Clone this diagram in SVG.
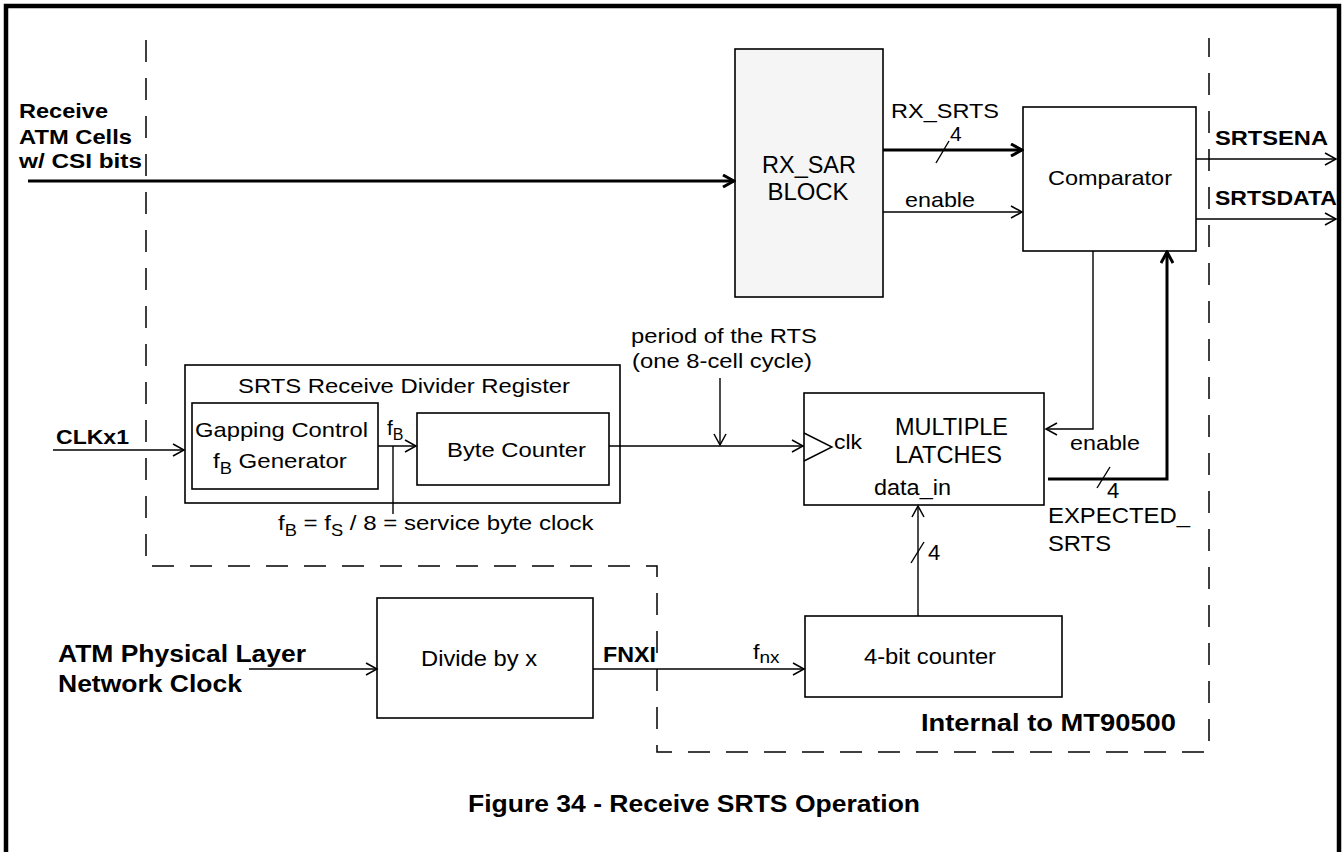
<svg xmlns="http://www.w3.org/2000/svg" width="1343" height="852" viewBox="0 0 1343 852">
<defs>
<style>
text{font-family:"Liberation Sans",Arial,sans-serif;fill:#000}
.n{font-size:21px}
.b{font-weight:bold;font-size:20px}
.box{fill:#fff;stroke:#000;stroke-width:1.6}
.ln{fill:none;stroke:#000;stroke-width:1.4}
.th{fill:none;stroke:#000;stroke-width:3}
.dash{fill:none;stroke:#000;stroke-width:1.5;stroke-dasharray:22 16}
</style>
<marker id="a" markerUnits="userSpaceOnUse" markerWidth="14" markerHeight="14" refX="12" refY="7" orient="auto" viewBox="0 0 14 14">
<path d="M1,1 L12,7 L1,13" fill="none" stroke="#000" stroke-width="1.5"/>
</marker>
<marker id="at" markerUnits="userSpaceOnUse" markerWidth="14" markerHeight="14" refX="12" refY="7" orient="auto" viewBox="0 0 14 14">
<path d="M1,1 L12,7 L1,13" fill="none" stroke="#000" stroke-width="3"/>
</marker>
</defs>
<rect width="1343" height="852" fill="#fff"/>
<rect x="6" y="6" width="1333" height="900" fill="none" stroke="#000" stroke-width="4.5"/>

<g id="boundary">
<path class="dash" d="M146,40 V566 H657 V752 H1209 V38"/>
<text class="b" x="921" y="731" style="font-size:24px" textLength="255" lengthAdjust="spacingAndGlyphs">Internal to MT90500</text>
</g>

<g id="rx_sar">
<rect x="735" y="49" width="148" height="248" fill="#f5f5f5" stroke="#000" stroke-width="1.6"/>
<text x="809" y="173" text-anchor="middle" style="font-size:23px" textLength="94" lengthAdjust="spacingAndGlyphs">RX_SAR</text>
<text x="808" y="200" text-anchor="middle" style="font-size:23px" textLength="81" lengthAdjust="spacingAndGlyphs">BLOCK</text>
</g>

<g id="comparator">
<rect class="box" x="1023" y="107" width="173" height="144"/>
<text class="n" x="1048" y="185" textLength="124" lengthAdjust="spacingAndGlyphs">Comparator</text>
</g>

<g id="divider_register">
<rect class="box" x="185" y="365" width="435" height="138"/>
<text class="n" x="238" y="393" textLength="332" lengthAdjust="spacingAndGlyphs">SRTS Receive Divider Register</text>
</g>

<g id="gapping_control">
<rect class="box" x="192" y="403" width="186" height="86"/>
<text class="n" x="195" y="437" textLength="173" lengthAdjust="spacingAndGlyphs">Gapping Control</text>
<text class="n" transform="translate(213,468) scale(1.145,1)" x="0" y="0">f<tspan dy="6" style="font-size:16px">B</tspan><tspan dy="-6"> Generator</tspan></text>
</g>

<g id="byte_counter">
<rect class="box" x="417" y="413" width="192" height="72"/>
<text class="n" x="447" y="457" textLength="139" lengthAdjust="spacingAndGlyphs">Byte Counter</text>
</g>

<g id="latches">
<rect class="box" x="804" y="393" width="240" height="112"/>
<polyline points="804,433 832,447 804,461" fill="none" stroke="#000" stroke-width="1.4"/>
<text class="n" x="834" y="449" textLength="28" lengthAdjust="spacingAndGlyphs">clk</text>
<text x="895" y="435" style="font-size:23px" textLength="113" lengthAdjust="spacingAndGlyphs">MULTIPLE</text>
<text x="895" y="463" style="font-size:23px" textLength="107" lengthAdjust="spacingAndGlyphs">LATCHES</text>
<text x="874" y="495" style="font-size:22px" textLength="77" lengthAdjust="spacingAndGlyphs">data_in</text>
</g>

<g id="divide_by_x">
<rect class="box" x="377" y="598" width="216" height="120"/>
<text x="421" y="666" style="font-size:22px" textLength="116" lengthAdjust="spacingAndGlyphs">Divide by x</text>
</g>

<g id="counter4">
<rect class="box" x="805" y="616" width="257" height="81"/>
<text x="864" y="664" style="font-size:22px" textLength="132" lengthAdjust="spacingAndGlyphs">4-bit counter</text>
</g>

<g id="connectors">
<path class="th" d="M28,181 H734" marker-end="url(#at)"/>
<path class="th" d="M883,150 H1022" marker-end="url(#at)"/>
<path class="ln" d="M936,163 L949,141"/>
<path class="ln" d="M883,212 H1022" marker-end="url(#a)"/>
<path class="ln" d="M1196,159 H1336" marker-end="url(#a)"/>
<path class="ln" d="M1196,219 H1336" marker-end="url(#a)"/>
<path class="ln" d="M1093,251 V429 H1046" marker-end="url(#a)"/>
<path class="th" d="M1048,479 H1167 V252" marker-end="url(#at)"/>
<path class="ln" d="M1097,488 L1110,467"/>
<path class="ln" d="M53,450 H184" marker-end="url(#a)"/>
<path class="ln" d="M378,446 H416" marker-end="url(#a)"/>
<path class="ln" d="M393,446 V514"/>
<path class="ln" d="M609,446 H803" marker-end="url(#a)"/>
<path class="ln" d="M720,378 V445" marker-end="url(#a)"/>
<path class="ln" d="M918,616 V506" marker-end="url(#a)"/>
<path class="ln" d="M911,563 L924,542"/>
<path class="ln" d="M249,669 H377" marker-end="url(#a)"/>
<path class="ln" d="M593,669 H804" marker-end="url(#a)"/>
</g>

<g id="labels">
<text class="b" x="19" y="118" textLength="89" lengthAdjust="spacingAndGlyphs">Receive</text>
<text class="b" x="19" y="144" textLength="113" lengthAdjust="spacingAndGlyphs">ATM Cells</text>
<text class="b" x="19" y="168" textLength="123" lengthAdjust="spacingAndGlyphs">w/ CSI bits</text>
<text class="n" x="891" y="118" textLength="108" lengthAdjust="spacingAndGlyphs">RX_SRTS</text>
<text class="n" x="950" y="141">4</text>
<text class="n" x="905" y="207" textLength="70" lengthAdjust="spacingAndGlyphs">enable</text>
<text class="b" x="1215" y="145" textLength="113" lengthAdjust="spacingAndGlyphs">SRTSENA</text>
<text class="b" x="1215" y="205" textLength="122" lengthAdjust="spacingAndGlyphs">SRTSDATA</text>
<text class="b" x="56" y="444" textLength="73" lengthAdjust="spacingAndGlyphs">CLKx1</text>
<text class="n" x="387" y="435">f<tspan dy="5" style="font-size:16px">B</tspan></text>
<text class="n" transform="translate(278,530) scale(1.145,1)" x="0" y="0">f<tspan dy="6" style="font-size:16px">B</tspan><tspan dy="-6"> = f</tspan><tspan dy="6" style="font-size:16px">S</tspan><tspan dy="-6"> / 8 = service byte clock</tspan></text>
<text class="n" x="631" y="343" textLength="186" lengthAdjust="spacingAndGlyphs">period of the RTS</text>
<text class="n" x="632" y="368" textLength="180" lengthAdjust="spacingAndGlyphs">(one 8-cell cycle)</text>
<text class="n" x="1070" y="450" textLength="70" lengthAdjust="spacingAndGlyphs">enable</text>
<text class="n" x="1107" y="498" style="font-size:22px">4</text>
<text class="n" x="1048" y="523" style="font-size:22px" textLength="142" lengthAdjust="spacingAndGlyphs">EXPECTED_</text>
<text class="n" x="1048" y="551" style="font-size:22px" textLength="63" lengthAdjust="spacingAndGlyphs">SRTS</text>
<text class="n" x="928" y="560" style="font-size:22px">4</text>
<text class="b" x="58" y="662" style="font-size:23px" textLength="248" lengthAdjust="spacingAndGlyphs">ATM Physical Layer</text>
<text class="b" x="58" y="692" style="font-size:23px" textLength="184" lengthAdjust="spacingAndGlyphs">Network Clock</text>
<text class="b" x="603" y="662" style="font-size:22px" textLength="53" lengthAdjust="spacingAndGlyphs">FNXI</text>
<text class="n" transform="translate(753,659) scale(1.12,1)" x="0" y="0">f<tspan dy="4" style="font-size:17px">nx</tspan></text>
<text class="b" x="468" y="812" style="font-size:24px" textLength="452" lengthAdjust="spacingAndGlyphs">Figure 34 - Receive SRTS Operation</text>
</g>
</svg>
